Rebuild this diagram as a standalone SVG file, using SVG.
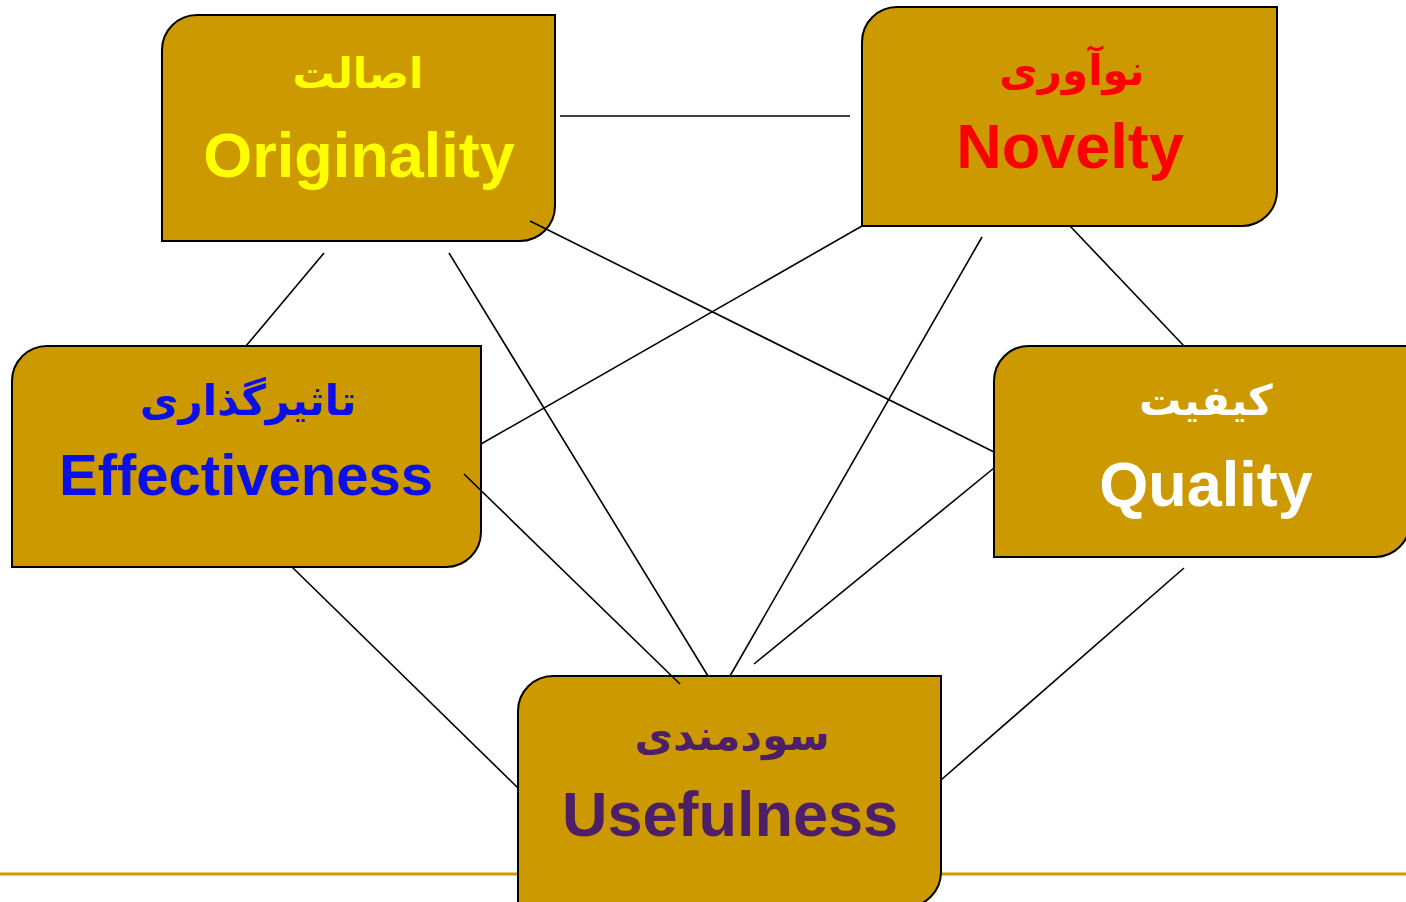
<svg xmlns="http://www.w3.org/2000/svg" width="1406" height="902" viewBox="0 0 1406 902">
<style>
.box{fill:#CC9900;stroke:#000;stroke-width:2}
.fa{font-family:"DejaVu Sans","Noto Sans",sans-serif;font-weight:bold;font-size:42px;text-anchor:middle;direction:rtl}
.en{font-family:"Liberation Sans",Arial,sans-serif;font-weight:bold;font-size:63px;text-anchor:middle}
.conn line{stroke:#000;stroke-width:1.6}
</style>
<rect width="1406" height="902" fill="#fff"/>
<line x1="0" y1="874" x2="1406" y2="874" stroke="#CC9900" stroke-width="3"/>
<g id="originality">
<path class="box" d="M197,15 H555 V206 A35,35 0 0 1 520,241 H162 V50 A35,35 0 0 1 197,15 Z"/>
<text class="fa" x="358" y="88" fill="#FFFF00">اصالت</text>
<text class="en" x="359" y="177" fill="#FFFF00">Originality</text>
</g>
<g id="novelty">
<path class="box" d="M897,7 H1277 V191 A35,35 0 0 1 1242,226 H862 V42 A35,35 0 0 1 897,7 Z"/>
<text class="fa" x="1072" y="85" fill="#FF0000">نوآوری</text>
<text class="en" x="1070" y="168" fill="#FF0000">Novelty</text>
</g>
<g id="effectiveness">
<path class="box" d="M47,346 H481 V532 A35,35 0 0 1 446,567 H12 V381 A35,35 0 0 1 47,346 Z"/>
<text class="fa" x="248" y="415" fill="#0A10E6">تاثیرگذاری</text>
<text class="en" x="246" y="495" fill="#0A10E6" style="font-size:58px">Effectiveness</text>
</g>
<g id="quality">
<path class="box" d="M1029,346 H1410 V522 A35,35 0 0 1 1375,557 H994 V381 A35,35 0 0 1 1029,346 Z"/>
<text class="fa" x="1206" y="415" fill="#FFFFFF">کیفیت</text>
<text class="en" x="1206" y="506" fill="#FFFFFF">Quality</text>
</g>
<g id="usefulness">
<path class="box" d="M553,676 H941 V872 A35,35 0 0 1 906,907 H518 V711 A35,35 0 0 1 553,676 Z"/>
<text class="fa" x="732" y="750" fill="#4C1F66">سودمندی</text>
<text class="en" x="730" y="836" fill="#4C1F66">Usefulness</text>
</g>
<g id="connectors" class="conn">
<line x1="560" y1="116" x2="850" y2="116"/>
<line x1="324" y1="253" x2="246" y2="346"/>
<line x1="449" y1="253" x2="708" y2="676"/>
<line x1="530" y1="221" x2="994" y2="452"/>
<line x1="862" y1="226" x2="481" y2="444"/>
<line x1="982" y1="237" x2="730" y2="676"/>
<line x1="1070" y1="226" x2="1184" y2="346"/>
<line x1="464" y1="474" x2="680" y2="684"/>
<line x1="292" y1="567" x2="518" y2="788"/>
<line x1="994" y1="468" x2="754" y2="664"/>
<line x1="1184" y1="568" x2="941" y2="780"/>
</g>
</svg>
